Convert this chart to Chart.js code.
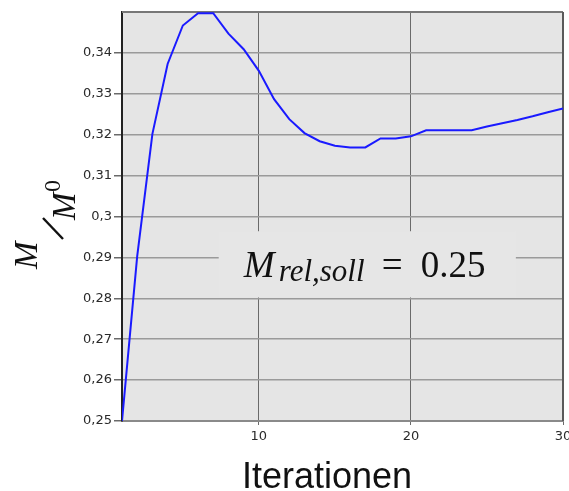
<!DOCTYPE html>
<html>
<head>
<meta charset="utf-8">
<script src="https://cdn.jsdelivr.net/npm/chart.js@4.4.1/dist/chart.umd.min.js"></script>
<style>
  html, body { margin: 0; padding: 0; background: #ffffff; }
  #wrap { width: 569px; height: 491px; }
</style>
</head>
<body>
<div id="wrap"><canvas id="c" width="569" height="491"></canvas></div>
<script>
// Iteration index and relative value M/M0 per iteration
const iterations = [1, 2, 3, 4, 5, 6, 7, 8, 9, 10, 11, 12, 13, 14, 15,
                    16, 17, 18, 19, 20, 21, 22, 23, 24, 25, 26, 27, 28, 29, 30];
const relValues = [0.2500, 0.2903, 0.3202, 0.3373, 0.3467, 0.3497, 0.3497, 0.3447, 0.3409, 0.3356,
                   0.3287, 0.3238, 0.3204, 0.3184, 0.3173, 0.3169, 0.3169, 0.3191, 0.3191, 0.3196,
                   0.3211, 0.3211, 0.3211, 0.3211, 0.3220, 0.3228, 0.3236, 0.3245, 0.3255, 0.3264];
const xTickValues = [10, 20, 30];
const yRange = [0.25, 0.35];
const xTitle = 'Iterationen';

const points = iterations.map((x, i) => ({ x: x, y: relValues[i] }));

// Label box with the target value, given in data units
const labelBox = { xMin: 7.36, xMax: 26.9, yMin: 0.2802, yMax: 0.2964 };

const isTop = v => Math.abs(v - yRange[1]) < 1e-9;

const fmtComma = v => {
  const r = Math.round(v * 100) / 100;
  if (isTop(r)) return '';
  return String(parseFloat(r.toFixed(2))).replace('.', ',');
};

const decor = {
  id: 'decor',
  beforeDraw(chart) {
    const { ctx, chartArea: a } = chart;
    ctx.save();
    ctx.fillStyle = '#e5e5e5';
    ctx.fillRect(a.left, a.top, a.right - a.left, a.bottom - a.top);
    ctx.restore();
  },
  beforeDatasetsDraw(chart) {
    const { ctx, chartArea: a, scales } = chart;
    const xs = scales.x, ys = scales.y;
    ctx.save();
    // frame top and right
    ctx.strokeStyle = '#777777';
    ctx.lineWidth = 2;
    ctx.beginPath();
    ctx.moveTo(a.left, a.top);
    ctx.lineTo(a.right, a.top);
    ctx.stroke();
    ctx.strokeStyle = '#5a5a5a';
    ctx.beginPath();
    ctx.moveTo(a.right, a.top);
    ctx.lineTo(a.right, a.bottom);
    ctx.stroke();

    // target value box
    const bx0 = xs.getPixelForValue(labelBox.xMin);
    const bx1 = xs.getPixelForValue(labelBox.xMax);
    const by0 = ys.getPixelForValue(labelBox.yMax);
    const by1 = ys.getPixelForValue(labelBox.yMin);
    ctx.fillStyle = '#e6e6e6';
    ctx.fillRect(bx0, by0, bx1 - bx0, by1 - by0);

    const tx = bx0 + 26;
    const base = by0 + 46;
    ctx.fillStyle = '#111111';
    ctx.textBaseline = 'alphabetic';
    ctx.textAlign = 'left';
    ctx.font = 'italic 37px "Liberation Serif"';
    ctx.fillText('M', tx - 1, base);
    ctx.font = 'italic 31px "Liberation Serif"';
    ctx.fillText('rel,soll', tx + 34, base + 4);
    ctx.font = '37px "Liberation Serif"';
    ctx.fillText('=', tx + 137, base);
    ctx.fillText('0.25', tx + 176, base);
    ctx.restore();
  },
  afterDraw(chart) {
    const { ctx } = chart;
    ctx.save();
    // x-axis title
    ctx.fillStyle = '#111111';
    ctx.font = '36px "Liberation Sans"';
    ctx.textAlign = 'center';
    ctx.textBaseline = 'alphabetic';
    ctx.fillText(xTitle, 327, 488);

    // y-axis title: M / M^0, rotated
    ctx.translate(45, 230);
    ctx.rotate(-Math.PI / 2);
    ctx.textAlign = 'left';
    ctx.font = 'italic 33px "Liberation Serif"';
    ctx.fillText('M', -39, -8);
    ctx.fillText('M', 10, 30);
    ctx.font = '24px "Liberation Serif"';
    ctx.fillText('0', 38, 15);
    ctx.strokeStyle = '#111111';
    ctx.lineWidth = 2.4;
    ctx.beginPath();
    ctx.moveTo(-9, 18);
    ctx.lineTo(12, -2);
    ctx.stroke();
    ctx.restore();
  }
};

new Chart(document.getElementById('c'), {
  type: 'line',
  data: {
    datasets: [{
      data: points,
      borderColor: '#1a1aff',
      borderWidth: 2,
      pointRadius: 0,
      tension: 0,
      fill: false
    }]
  },
  options: {
    responsive: false,
    devicePixelRatio: 1,
    animation: false,
    layout: { padding: { left: 0, right: 6, top: 12, bottom: 0 } },
    plugins: { legend: { display: false }, tooltip: { enabled: false } },
    scales: {
      x: {
        type: 'linear',
        min: 1,
        max: 30,
        afterBuildTicks: s => { s.ticks = xTickValues.map(v => ({ value: v })); },
        afterFit: s => { s.height = 70; s.paddingLeft = 0; s.paddingRight = 0; },
        grid: { color: '#6a6a6a', lineWidth: 1, tickLength: 4, tickColor: '#6a6a6a' },
        border: { display: true, color: '#8a8a8a', width: 2 },
        ticks: {
          color: '#2a2a2a',
          font: { family: 'DejaVu Sans', size: 13 },
          padding: 4,
          maxRotation: 0,
          callback: v => String(v)
        }
      },
      y: {
        type: 'linear',
        min: yRange[0],
        max: yRange[1],
        afterFit: s => { s.width = 122; s.paddingTop = 0; s.paddingBottom = 0; },
        grid: {
          color: '#9a9a9a',
          lineWidth: 1.5,
          tickLength: 8,
          tickColor: c => (c.tick && isTop(c.tick.value)) ? 'rgba(0,0,0,0)' : '#6a6a6a'
        },
        border: { display: true, color: '#222222', width: 2 },
        ticks: {
          stepSize: 0.01,
          color: '#2a2a2a',
          font: { family: 'DejaVu Sans', size: 13 },
          padding: 2,
          callback: v => fmtComma(v)
        }
      }
    }
  },
  plugins: [decor]
});
</script>
</body>
</html>
